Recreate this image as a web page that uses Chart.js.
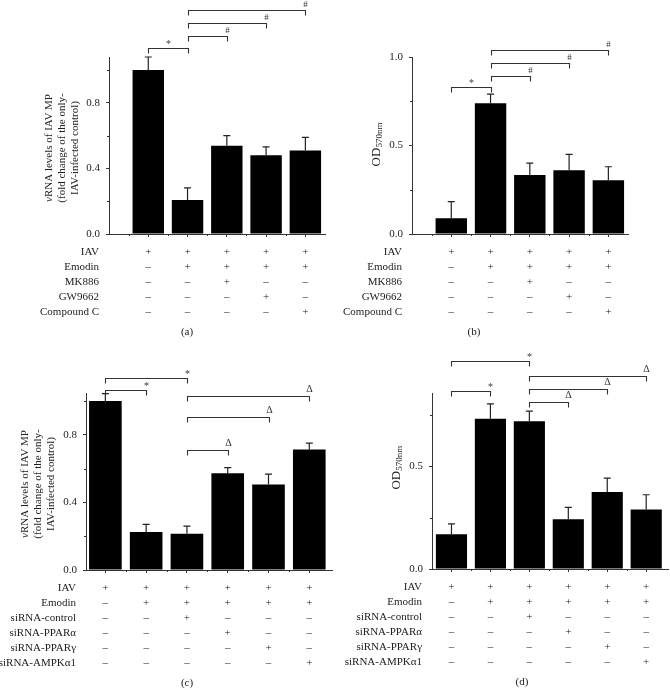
<!DOCTYPE html>
<html>
<head>
<meta charset="utf-8">
<script src="https://cdn.jsdelivr.net/npm/chart.js@4.4.1/dist/chart.umd.min.js"></script>
<style>
  body { margin: 0; background: #fff; }
  #wrap { position: relative; width: 670px; height: 690px; }
  canvas { position: absolute; }
</style>
</head>
<body>
<div id="wrap">
  <canvas id="cA" width="335" height="345" style="left:0;top:0"></canvas>
  <canvas id="cB" width="335" height="345" style="left:335px;top:0"></canvas>
  <canvas id="cC" width="335" height="345" style="left:0;top:345px"></canvas>
  <canvas id="cD" width="335" height="345" style="left:335px;top:345px"></canvas>
</div>
<script>
const SERIF = '"Liberation Serif", "DejaVu Serif", serif';

// bar positions (groups)
const groups5 = [1, 2, 3, 4, 5];
const groups6 = [1, 2, 3, 4, 5, 6];

// (a) vRNA levels
const valuesA = [1.0, 0.207, 0.538, 0.48, 0.51];
const errorsA = [0.08, 0.075, 0.062, 0.052, 0.08];
// (b) OD570nm
const valuesB = [0.089, 0.738, 0.333, 0.36, 0.303];
const errorsB = [0.094, 0.052, 0.067, 0.09, 0.077];
// (c) vRNA levels, siRNA
const valuesC = [1.0, 0.225, 0.215, 0.573, 0.506, 0.713];
const errorsC = [0.043, 0.045, 0.045, 0.033, 0.061, 0.038];
// (d) OD570nm, siRNA
const valuesD = [0.17, 0.733, 0.72, 0.243, 0.375, 0.29];
const errorsD = [0.05, 0.072, 0.05, 0.057, 0.068, 0.072];

// y tick labels
const yTicksA = [0, 0.4, 0.8];
const yMinorA = [0.2, 0.6, 1.0];
const yTicksB = [0, 0.5, 1.0];
const yMinorB = [0.25, 0.75];
const yTicksC = [0, 0.4, 0.8];
const yMinorC = [0.2, 0.6, 1.0];
const yTicksD = [0, 0.5];
const yMinorD = [0.25, 0.75];

// significance brackets: [from, to, level, symbol, where the symbol sits]
const bracketsA = [[1, 2, 1.136, '*', 'mid'], [2, 3, 1.209, '#', 'end'], [2, 4, 1.285, '#', 'end'], [2, 5, 1.364, '#', 'end']];
const bracketsB = [[1, 2, 0.829, '*', 'mid'], [2, 3, 0.894, '#', 'end'], [2, 4, 0.966, '#', 'end'], [2, 5, 1.04, '#', 'end']];
const bracketsC = [[1, 2, 1.063, '*', 'end'], [1, 3, 1.136, '*', 'end'], [3, 4, 0.707, 'Δ', 'end'], [3, 5, 0.905, 'Δ', 'end'], [3, 6, 1.031, 'Δ', 'end']];
const bracketsD = [[1, 2, 0.868, '*', 'end'], [1, 3, 1.013, '*', 'end'], [3, 4, 0.816, 'Δ', 'end'], [3, 5, 0.879, 'Δ', 'end'], [3, 6, 0.94, 'Δ', 'end']];

// treatment tables
const rowsAB = ['IAV', 'Emodin', 'MK886', 'GW9662', 'Compound C'];
const marksAB = [
  ['+', '+', '+', '+', '+'],
  ['–', '+', '+', '+', '+'],
  ['–', '–', '+', '–', '–'],
  ['–', '–', '–', '+', '–'],
  ['–', '–', '–', '–', '+']
];
const rowsCD = ['IAV', 'Emodin', 'siRNA-control', 'siRNA-PPARα', 'siRNA-PPARγ', 'siRNA-AMPKα1'];
const marksCD = [
  ['+', '+', '+', '+', '+', '+'],
  ['–', '+', '+', '+', '+', '+'],
  ['–', '–', '+', '–', '–', '–'],
  ['–', '–', '–', '+', '–', '–'],
  ['–', '–', '–', '–', '+', '–'],
  ['–', '–', '–', '–', '–', '+']
];

const titleVRNA = [
  [['v', 'italic 11px ' + SERIF], ['RNA levels of IAV MP', '11px ' + SERIF]],
  [['(fold change of the only-', '11px ' + SERIF]],
  [['IAV-infected control)', '11px ' + SERIF]]
];
const titleOD = [
  [['OD', '13px ' + SERIF], ['570nm', '9px ' + SERIF, 3]]
];

function drawRuns(ctx, runs, cx, cy) {
  ctx.save();
  ctx.translate(cx, cy);
  ctx.rotate(-Math.PI / 2);
  let w = 0;
  runs.forEach(r => { ctx.font = r[1]; w += ctx.measureText(r[0]).width; });
  let x = -w / 2;
  ctx.textAlign = 'left';
  ctx.textBaseline = 'middle';
  runs.forEach(r => {
    ctx.font = r[1];
    ctx.fillText(r[0], x, r[2] || 0);
    x += ctx.measureText(r[0]).width;
  });
  ctx.restore();
}

const panelPlugin = {
  id: 'panel',
  afterDraw(chart, args, o) {
    const ctx = chart.ctx, xs = chart.scales.x, ys = chart.scales.y, area = chart.chartArea;
    const bars = chart.getDatasetMeta(0).data;
    const data = chart.data.datasets[0].data;
    ctx.save();

    // minor ticks, and the x axis running a little past the y axis
    ctx.strokeStyle = '#333';
    ctx.lineWidth = 1;
    ctx.beginPath();
    o.minorY.forEach(v => {
      const y = Math.round(ys.getPixelForValue(v)) + 0.5;
      ctx.moveTo(area.left - 2, y); ctx.lineTo(area.left, y);
    });
    o.minorX.forEach(v => {
      const x = Math.round(xs.getPixelForValue(v)) + 0.5;
      ctx.moveTo(x, area.bottom); ctx.lineTo(x, area.bottom + 2);
    });
    ctx.stroke();

    // error bars
    ctx.strokeStyle = '#222';
    ctx.lineWidth = 1.2;
    bars.forEach((b, i) => {
      const top = ys.getPixelForValue(data[i].y + o.errors[i]);
      ctx.beginPath();
      ctx.moveTo(b.x, b.y); ctx.lineTo(b.x, top);
      ctx.moveTo(b.x - 3.5, top); ctx.lineTo(b.x + 3.5, top);
      ctx.stroke();
    });

    // brackets
    ctx.strokeStyle = '#333';
    ctx.lineWidth = 1.1;
    ctx.fillStyle = '#333';
    ctx.textAlign = 'center';
    ctx.textBaseline = 'middle';
    o.brackets.forEach(([a, b, v, sym, at]) => {
      const x1 = Math.round(xs.getPixelForValue(a)) + 0.5;
      const x2 = Math.round(xs.getPixelForValue(b)) + 0.5;
      const y = Math.round(ys.getPixelForValue(v)) + 0.5;
      ctx.beginPath();
      ctx.moveTo(x1, y + 5); ctx.lineTo(x1, y); ctx.lineTo(x2, y); ctx.lineTo(x2, y + 5);
      ctx.stroke();
      const sx = at === 'mid' ? (x1 + x2) / 2 : x2;
      if (sym === 'Δ') { ctx.font = '10px ' + SERIF; ctx.fillText(sym, sx, y - 7); }
      else if (sym === '#') { ctx.font = '9px ' + SERIF; ctx.fillText(sym, sx, y - 6); }
      else { ctx.font = '10px ' + SERIF; ctx.fillText(sym, sx, y - 4); }
    });

    // treatment table
    ctx.fillStyle = '#222';
    ctx.font = '11px ' + SERIF;
    let lastY = 0;
    o.rows.forEach((name, r) => {
      const y = area.bottom + 18.5 + r * 15;
      lastY = y;
      ctx.textAlign = 'right';
      ctx.fillText(name, area.left - 10, y);
      ctx.textAlign = 'center';
      o.marks[r].forEach((m, i) => ctx.fillText(m, xs.getPixelForValue(o.groups[i]), y));
    });
    ctx.textAlign = 'center';
    ctx.fillText(o.caption, o.captionX, lastY + 20);

    // y title
    ctx.fillStyle = '#222';
    o.title.forEach((runs, k) => drawRuns(ctx, runs, o.titleX[k], o.titleY));

    ctx.restore();
  }
};

function makeChart(id, p) {
  const W = 335, H = 345, yW = 40, xH = 5;
  return new Chart(document.getElementById(id), {
    type: 'bar',
    data: {
      datasets: [{
        data: p.values.map((v, i) => ({ x: p.groups[i], y: v })),
        backgroundColor: '#000',
        borderWidth: 0,
        barPercentage: 0.8,
        categoryPercentage: 1
      }]
    },
    options: {
      responsive: false,
      animation: false,
      layout: { padding: { left: p.area[0] - yW, right: W - p.area[1], top: p.area[2], bottom: H - p.area[3] - xH } },
      plugins: {
        legend: { display: false },
        tooltip: { enabled: false },
        panel: p
      },
      scales: {
        x: {
          type: 'linear',
          min: p.xRange[0], max: p.xRange[1],
          offset: false,
          afterBuildTicks: s => { s.ticks = p.groups.map(v => ({ value: v })); },
          afterFit: s => { s.height = xH; },
          ticks: { display: false },
          grid: { offset: false, drawOnChartArea: false, drawTicks: true, tickLength: 3, color: '#333' },
          border: { color: '#333', width: 1 }
        },
        y: {
          min: 0, max: p.yMax,
          afterBuildTicks: s => { s.ticks = p.yTicks.map(v => ({ value: v })); },
          afterFit: s => { s.width = yW; },
          ticks: { padding: 6, color: '#222', font: { family: SERIF, size: 11 }, callback: v => v.toFixed(1) },
          grid: { drawOnChartArea: false, drawTicks: true, tickLength: 3, color: '#333' },
          border: { color: '#333', width: 1 }
        }
      }
    },
    plugins: [panelPlugin]
  });
}

makeChart('cA', {
  groups: groups5, values: valuesA, errors: errorsA, brackets: bracketsA,
  yTicks: yTicksA, minorY: yMinorA, minorX: [0.5, 1.5, 2.5, 3.5, 4.5],
  yMax: 1.08, xRange: [0, 5.5], area: [109, 325, 57, 234],
  rows: rowsAB, marks: marksAB, caption: '(a)', captionX: 187,
  title: titleVRNA, titleX: [49, 61.7, 75], titleY: 148
});
makeChart('cB', {
  groups: groups5, values: valuesB, errors: errorsB, brackets: bracketsB,
  yTicks: yTicksB, minorY: yMinorB, minorX: [0.5, 1.5, 2.5, 3.5, 4.5],
  yMax: 1.0, xRange: [0, 5.5], area: [77, 293, 57, 234],
  rows: rowsAB, marks: marksAB, caption: '(b)', captionX: 139,
  title: titleOD, titleX: [42], titleY: 144.5
});
makeChart('cC', {
  groups: groups6, values: valuesC, errors: errorsC, brackets: bracketsC,
  yTicks: yTicksC, minorY: yMinorC, minorX: [1.5, 2.5, 3.5, 4.5, 5.5],
  yMax: 1.047, xRange: [0.525, 6.557], area: [86, 332, 48, 225],
  rows: rowsCD, marks: marksCD, caption: '(c)', captionX: 187,
  title: titleVRNA, titleX: [25, 37.7, 50.7], titleY: 139
});
makeChart('cD', {
  groups: groups6, values: valuesD, errors: errorsD, brackets: bracketsD,
  yTicks: yTicksD, minorY: yMinorD, minorX: [1.5, 2.5, 3.5, 4.5, 5.5],
  yMax: 0.858, xRange: [0.5, 6.56], area: [97, 333, 48, 224],
  rows: rowsCD, marks: marksCD, caption: '(d)', captionX: 187,
  title: titleOD, titleX: [61.7], titleY: 122.7
});
</script>
</body>
</html>
